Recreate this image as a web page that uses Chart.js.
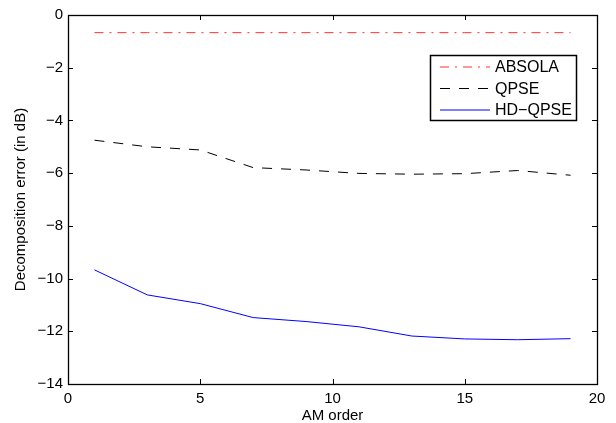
<!DOCTYPE html>
<html>
<head>
<meta charset="utf-8">
<script src="https://cdn.jsdelivr.net/npm/chart.js@4"></script>
<style>
  html, body { margin: 0; padding: 0; background: #fff; }
  #wrap { width: 616px; height: 423px; }
</style>
</head>
<body>
<div id="wrap"><canvas id="myChart" width="616" height="423"></canvas></div>
<script>
// values
const amOrder = [1, 3, 5, 7, 9, 11, 13, 15, 17, 19];
const absola  = [-0.67, -0.67, -0.67, -0.67, -0.67, -0.67, -0.67, -0.67, -0.67, -0.67];
const qpse    = [-4.75, -5.0, -5.12, -5.79, -5.88, -6.01, -6.04, -6.02, -5.9, -6.08];
const hdqpse  = [-9.67, -10.62, -10.95, -11.48, -11.63, -11.83, -12.18, -12.29, -12.32, -12.28];
const xTicks  = [0, 5, 10, 15, 20];
const yTicks  = [0, -2, -4, -6, -8, -10, -12, -14];

Chart.defaults.font.family = "'Liberation Sans', Arial, sans-serif";
Chart.defaults.color = '#000';

function pts(ys) {
  return amOrder.map((x, i) => ({x: x, y: ys[i]}));
}

// matlab style box with inward ticks + legend box
const boxPlugin = {
  id: 'boxPlugin',
  afterDraw(chart) {
    const ctx = chart.ctx;
    const a = chart.chartArea;
    const xs = chart.scales.x, ys = chart.scales.y;
    ctx.save();
    ctx.strokeStyle = '#000';
    ctx.lineWidth = 1.3;
    ctx.strokeRect(Math.round(a.left) + 0.5, Math.round(a.top) + 0.5,
      Math.round(a.right - a.left), Math.round(a.bottom - a.top));
    ctx.lineWidth = 1;
    ctx.beginPath();
    xTicks.forEach(v => {
      const px = Math.round(xs.getPixelForValue(v)) + 0.5;
      ctx.moveTo(px, a.bottom); ctx.lineTo(px, a.bottom - 5);
      ctx.moveTo(px, a.top); ctx.lineTo(px, a.top + 5);
    });
    yTicks.forEach(v => {
      const py = Math.round(ys.getPixelForValue(v)) + 0.5;
      ctx.moveTo(a.left, py); ctx.lineTo(a.left + 5, py);
      ctx.moveTo(a.right, py); ctx.lineTo(a.right - 5, py);
    });
    ctx.stroke();

    // legend
    const lx = 430, ly = 55, lw = 146, lh = 65;
    ctx.fillStyle = '#fff';
    ctx.fillRect(lx, ly, lw, lh);
    ctx.lineWidth = 1.5;
    ctx.strokeRect(lx + 0.5, ly + 0.5, lw, lh);
    ctx.font = "16px 'Liberation Sans', Arial, sans-serif";
    ctx.textBaseline = 'middle';
    chart.data.datasets.forEach((ds, i) => {
      const y = ly + 12 + i * 21.5;
      ctx.beginPath();
      ctx.strokeStyle = ds.borderColor;
      ctx.lineWidth = ds.borderWidth;
      ctx.setLineDash(ds.borderDash || []);
      ctx.moveTo(lx + 10, y); ctx.lineTo(lx + 60, y);
      ctx.stroke();
      ctx.setLineDash([]);
      ctx.fillStyle = '#000';
      ctx.fillText(ds.label, lx + 65, y + 1);
    });
    ctx.restore();
  }
};

const ctx = document.getElementById('myChart');
new Chart(ctx, {
  type: 'line',
  data: {
    datasets: [{
      label: 'ABSOLA',
      data: pts(absola),
      borderColor: '#ff3030',
      borderWidth: 1,
      borderDash: [9, 6, 2, 6],
      pointRadius: 0,
      tension: 0
    }, {
      label: 'QPSE',
      data: pts(qpse),
      borderColor: '#000',
      borderWidth: 1,
      borderDash: [10, 9],
      pointRadius: 0,
      tension: 0
    }, {
      label: 'HD\u2212QPSE',
      data: pts(hdqpse),
      borderColor: '#0000ff',
      borderWidth: 1,
      pointRadius: 0,
      tension: 0
    }]
  },
  options: {
    responsive: false,
    animation: false,
    layout: { padding: { left: 0, top: 15, right: 19, bottom: 0 } },
    plugins: {
      legend: { display: false },
      tooltip: { enabled: false }
    },
    scales: {
      x: {
        type: 'linear',
        min: 0,
        max: 20,
        afterFit: s => { s.height = 39; },
        afterBuildTicks: s => { s.ticks = xTicks.map(v => ({value: v})); },
        border: { display: false },
        grid: { display: false, drawTicks: false },
        ticks: { font: { size: 15 }, padding: 6, maxRotation: 0 },
        title: { display: true, text: 'AM order', font: { size: 15, lineHeight: 1 }, padding: { top: 0, bottom: 0 } }
      },
      y: {
        min: -14,
        max: 0,
        afterFit: s => { s.width = 68; },
        afterBuildTicks: s => { s.ticks = yTicks.map(v => ({value: v})); },
        border: { display: false },
        grid: { display: false, drawTicks: false },
        ticks: {
          font: { size: 15 },
          padding: 5,
          callback: v => String(v).replace('-', '\u2212')
        },
        title: { display: true, text: 'Decomposition error (in dB)', font: { size: 15 }, padding: { top: 12, bottom: 0 } }
      }
    }
  },
  plugins: [boxPlugin]
});
</script>
</body>
</html>
